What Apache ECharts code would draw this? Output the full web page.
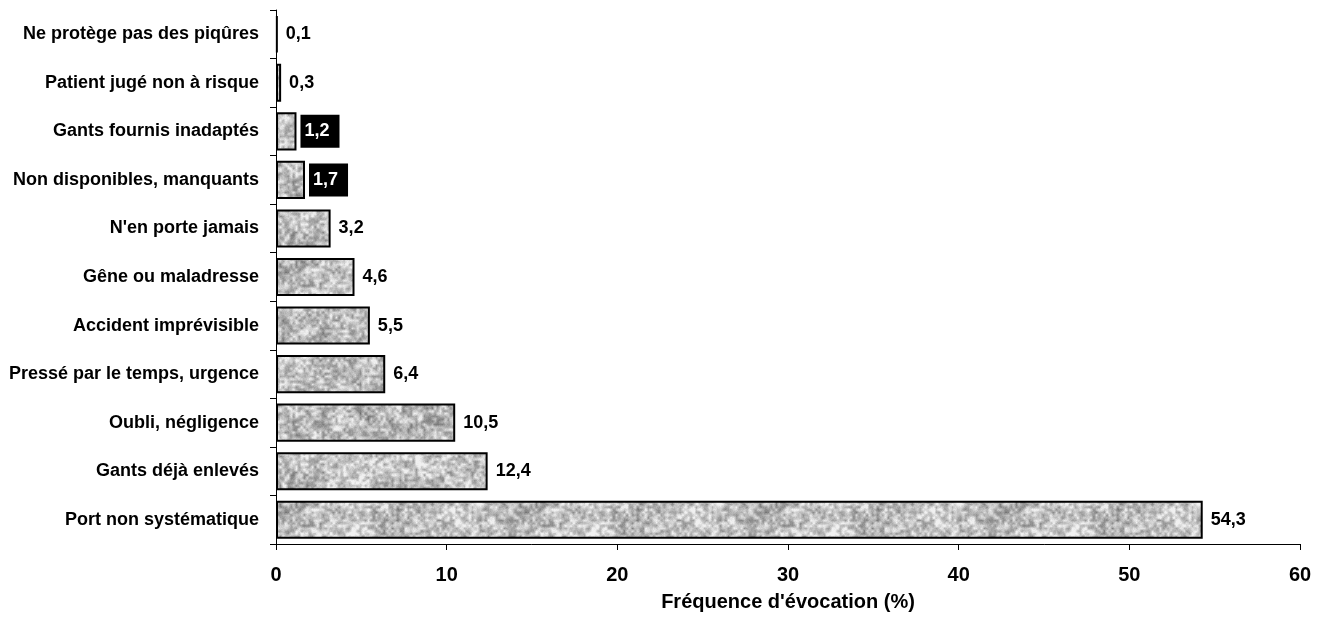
<!DOCTYPE html>
<html><head><meta charset="utf-8">
<script src="https://cdn.jsdelivr.net/npm/echarts@6/dist/echarts.min.js"></script>
<style>html,body{margin:0;padding:0;background:#fff}#c{width:1327px;height:624px}</style>
</head><body><div id="c"></div>
<script>
const categories = ["Port non systématique","Gants déjà enlevés","Oubli, négligence","Pressé par le temps, urgence","Accident imprévisible","Gêne ou maladresse","N'en porte jamais","Non disponibles, manquants","Gants fournis inadaptés","Patient jugé non à risque","Ne protège pas des piqûres"];
const values = [54.3,12.4,10.5,6.4,5.5,4.6,3.2,1.7,1.2,0.3,0.1];
const highlighted = ["Non disponibles, manquants","Gants fournis inadaptés"];
const xTicks = [0,10,20,30,40,50,60];

// granite-like texture (style only, deterministic)
function makeTexture(){
  const N=240, c=document.createElement('canvas'); c.width=N; c.height=N;
  const ctx=c.getContext('2d'); const img=ctx.createImageData(N,N);
  let s=24680; const rnd=()=>{s=(s*1103515245+12345)&0x7fffffff; return s/0x7fffffff;};
  function grid(G){const g=[];for(let i=0;i<G*G;i++)g.push(rnd());
    return (fx,fy)=>{const i=Math.floor(fx),j=Math.floor(fy),tx=fx-i,ty=fy-j;
      const a=(p,q)=>g[((q%G+G)%G)*G+((p%G+G)%G)];
      return (a(i,j)*(1-tx)+a(i+1,j)*tx)*(1-ty)+(a(i,j+1)*(1-tx)+a(i+1,j+1)*tx)*ty;};}
  const fine=grid(90), mid=grid(32), coarse=grid(8);
  for(let y=0;y<N;y++)for(let x=0;x<N;x++){
    const f=fine(x/N*90,y/N*90), m=mid(x/N*32,y/N*32), co=coarse(x/N*8,y/N*8);
    let gray=192+100*(f-0.5)+55*(m-0.5)+25*(co-0.5)+16*(rnd()-0.5);
    gray=Math.max(70,Math.min(240,gray));
    const k=(y*N+x)*4; img.data[k]=img.data[k+1]=img.data[k+2]=gray; img.data[k+3]=255;
  }
  ctx.putImageData(img,0,0); return c;
}
const tex = makeTexture();
const FONT='Liberation Sans, Arial, sans-serif';

const chart = echarts.init(document.getElementById('c'));
chart.setOption({
  animation:false,
  grid:{left:276,right:27,top:10,bottom:80,containLabel:false},
  xAxis:{type:'value',min:0,max:60,interval:10,
    name:"Fréquence d'évocation (%)",nameLocation:'middle',nameGap:48,
    nameTextStyle:{fontFamily:FONT,fontWeight:'bold',fontSize:20,color:'#000'},
    axisLine:{show:true,lineStyle:{color:'#000',width:1}},
    axisTick:{show:true,length:6,lineStyle:{color:'#000'}},
    splitLine:{show:false},
    axisLabel:{fontFamily:FONT,fontWeight:'bold',fontSize:20,color:'#000',margin:21,
      formatter:v=>xTicks.includes(v)?String(v):''}
  },
  yAxis:{type:'category',data:categories,
    axisLine:{show:true,lineStyle:{color:'#000',width:1}},
    axisTick:{show:true,length:6,lineStyle:{color:'#000'}},
    axisLabel:{fontFamily:FONT,fontWeight:'bold',fontSize:18,color:'#000',margin:17}
  },
  series:[{type:'bar',barCategoryGap:'21.5%',
    data:values.map((v,i)=>{
      const hl=highlighted.includes(categories[i]);
      return {value:v,label:hl?{color:'#fff',backgroundColor:'#000',padding:[8,10,7,4],distance:4}:{}};
    }),
    itemStyle:{color:{image:tex,repeat:'repeat'},borderColor:'#000',borderWidth:2},
    label:{show:true,position:'right',distance:8,fontFamily:FONT,fontWeight:'bold',fontSize:18,color:'#000',
      formatter:p=>String(p.value).replace('.',',')}
  }]
});
</script></body></html>
